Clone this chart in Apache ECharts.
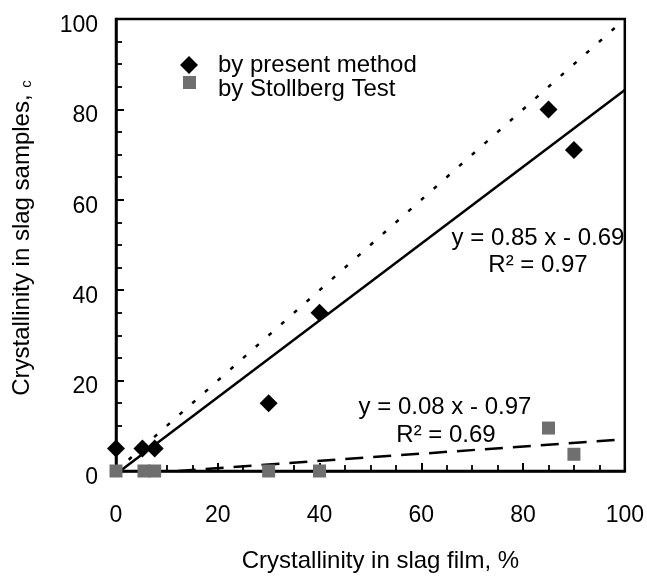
<!DOCTYPE html>
<html>
<head>
<meta charset="utf-8">
<script src="https://cdn.jsdelivr.net/npm/echarts@6/dist/echarts.min.js"></script>
<style>
html,body{margin:0;padding:0;background:#fff;}
#chart{width:647px;height:578px;}
</style>
</head>
<body>
<div id="chart"></div>
<script>
// ---- data ----
const presentX = [0, 5.2, 7.6, 30, 40, 85, 90];
const presentY = [5, 5, 5, 15, 35, 80, 71];
const stollX = [0, 5.5, 7.6, 30, 40, 85, 90];
const stollY = [0, 0, 0, 0, 0, 9.5, 3.7];
const fitSlope = [0.85, 0.08];
const fitIntercept = [-0.69, -0.97];
const eqTexts = ['y = 0.85 x - 0.69', 'y = 0.08 x - 0.97'];
const r2Texts = ['R\u00b2 = 0.97', 'R\u00b2 = 0.69'];
const seriesNames = ['by present method', 'by Stollberg Test'];
const xName = 'Crystallinity in slag film, %';
const yName = 'Crystallinity in slag samples, ';
const yNameSup = 'c';

const FONT = '"Liberation Sans", Arial, Helvetica, sans-serif';

function fitLine(i) {
  const x0 = Math.max(0, -fitIntercept[i] / fitSlope[i]);
  return [[x0, fitSlope[i] * x0 + fitIntercept[i]], [100, fitSlope[i] * 100 + fitIntercept[i]]];
}
const zip = (a, b) => a.map((v, i) => [v, b[i]]);

const chart = echarts.init(document.getElementById('chart'), null, {renderer: 'canvas'});

const axisCommon = {
  type: 'value', min: 0, max: 100, interval: 20,
  axisLine: {show: true, onZero: false, lineStyle: {color: '#000', width: 2.5}},
  axisTick: {show: true, inside: true, length: 8, lineStyle: {color: '#000', width: 2}},
  minorTick: {show: true, splitNumber: 4, length: 6, lineStyle: {color: '#000', width: 1.8}},
  splitLine: {show: false},
  nameLocation: 'middle'
};

chart.setOption({
  backgroundColor: '#fff',
  animation: false,
  grid: {left: 116, right: 20, top: 19, bottom: 103, show: true, borderColor: '#000', borderWidth: 2.5, containLabel: false},
  legend: [
    {
      orient: 'vertical', left: 180, top: 53, padding: 0, itemWidth: 18, itemHeight: 18,
      data: [{name: seriesNames[0], icon: 'diamond'}],
      textStyle: {color: '#000', fontSize: 24, fontFamily: FONT, padding: [0, 0, 0, 15]}
    },
    {
      orient: 'vertical', left: 183, top: 76, padding: 0, itemWidth: 13, itemHeight: 13,
      data: [{name: seriesNames[1], icon: 'rect'}],
      formatter: function (n) { return '{t|' + n + '}'; },
      textStyle: {color: '#000', fontSize: 24, fontFamily: FONT,
        rich: {t: {color: '#000', fontSize: 24, fontFamily: FONT, padding: [14, 0, 0, 17]}}}
    }
  ],
  xAxis: Object.assign({}, axisCommon, {
    name: xName, nameGap: 78,
    nameTextStyle: {color: '#000', fontSize: 24, fontFamily: FONT, padding: [0, 0, 0, 20]},
    axisLabel: {color: '#000', fontSize: 23, fontFamily: FONT, margin: 33}
  }),
  yAxis: Object.assign({}, axisCommon, {
    name: '{a|' + yName + '}{c|' + yNameSup + '}', nameGap: 82, nameRotate: 90,
    nameTextStyle: {color: '#000', fontSize: 24, fontFamily: FONT, padding: [0, 0, 0, 14],
      rich: {a: {fontSize: 24, fontFamily: FONT, color: '#000', verticalAlign: 'bottom'},
             c: {fontSize: 15, fontFamily: FONT, color: '#000', verticalAlign: 'bottom'}}},
    axisLabel: {color: '#000', fontSize: 23, fontFamily: FONT, margin: 18,
      formatter: function (v) { return '{v|' + v + '}'; },
      rich: {v: {fontSize: 23, fontFamily: FONT, color: '#000', padding: [13, 0, 0, 0]}}}
  }),
  graphic: [
    {type: 'text', x: 538, y: 238, style: {text: eqTexts[0], fill: '#000', font: '24px ' + FONT, textAlign: 'center', textVerticalAlign: 'middle'}},
    {type: 'text', x: 538, y: 265, style: {text: r2Texts[0], fill: '#000', font: '24px ' + FONT, textAlign: 'center', textVerticalAlign: 'middle'}},
    {type: 'text', x: 445, y: 407, style: {text: eqTexts[1], fill: '#000', font: '24px ' + FONT, textAlign: 'center', textVerticalAlign: 'middle'}},
    {type: 'text', x: 446, y: 435, style: {text: r2Texts[1], fill: '#000', font: '24px ' + FONT, textAlign: 'center', textVerticalAlign: 'middle'}}
  ],
  series: [
    {type: 'line', name: 'y = x', data: [[0, 0], [100, 100]], symbol: 'none', silent: true, z: 2,
     lineStyle: {color: '#000', width: 2.5, type: [4, 13]}},
    {type: 'line', name: 'fit present', data: fitLine(0), symbol: 'none', silent: true, z: 2,
     lineStyle: {color: '#000', width: 2.5, type: 'solid'}},
    {type: 'line', name: 'fit Stollberg', data: fitLine(1), symbol: 'none', silent: true, z: 2,
     lineStyle: {color: '#000', width: 2.5, type: [18, 10]}},
    {type: 'scatter', name: seriesNames[1], data: zip(stollX, stollY), symbol: 'rect', symbolSize: 13, z: 3,
     itemStyle: {color: '#6f6f6f', opacity: 1}},
    {type: 'scatter', name: seriesNames[0], data: zip(presentX, presentY), symbol: 'diamond', symbolSize: 18, z: 4,
     itemStyle: {color: '#000', opacity: 1}}
  ]
});
</script>
</body>
</html>
